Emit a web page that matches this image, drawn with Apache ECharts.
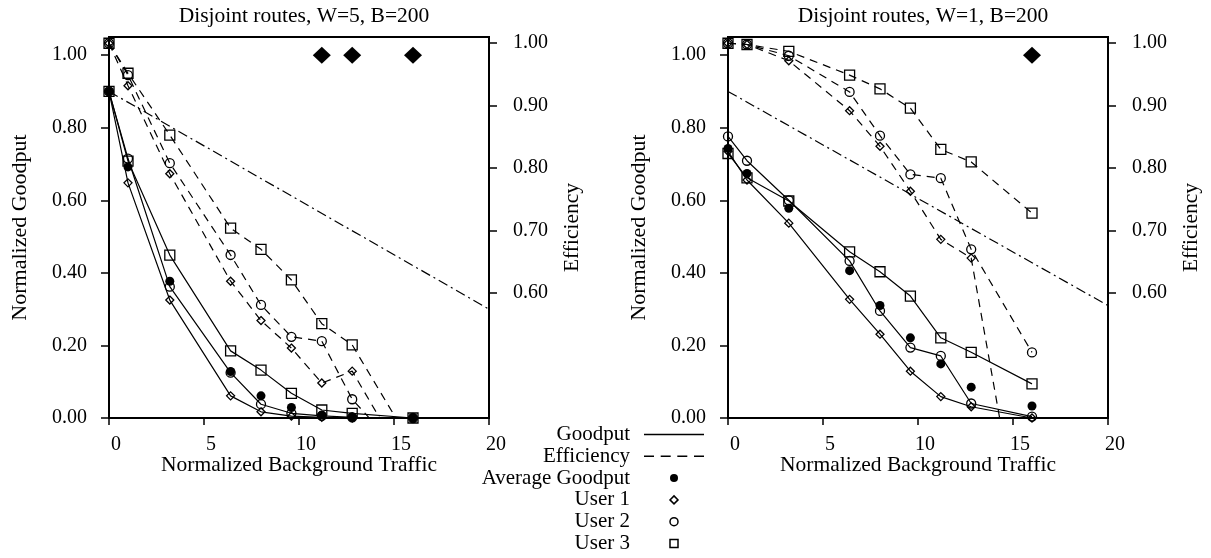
<!DOCTYPE html>
<html>
<head>
<meta charset="utf-8">
<script src="https://cdn.jsdelivr.net/npm/echarts@6/dist/echarts.min.js"></script>
<style>
html, body { margin: 0; padding: 0; background: #fff; }
#main { width: 1211px; height: 558px; }
</style>
</head>
<body>
<div id="main"></div>
<script>
var traffic = [0, 1, 3.2, 6.4, 8, 9.6, 11.2, 12.8, 16];
var goodputTicks = [0, 0.2, 0.4, 0.6, 0.8, 1.0];
var effTicks = [0.6, 0.7, 0.8, 0.9, 1.0];

// W=5 panel
var w5Avg   = [0.90, 0.692, 0.377, 0.128, 0.061, 0.029, 0.008, 0.002, 0];
var w5User1 = [0.90, 0.648, 0.325, 0.061, 0.017, 0.005, 0.002, 0, 0];
var w5User2 = [0.90, 0.715, 0.362, 0.125, 0.038, 0.013, 0.006, 0.002, 0];
var w5User3 = [0.90, 0.708, 0.449, 0.185, 0.132, 0.068, 0.022, 0.013, 0];
var w5Eff1  = [1.00, 0.932, 0.791, 0.619, 0.556, 0.512, 0.456, 0.475, 0.309];
var w5Eff2  = [1.00, 0.949, 0.808, 0.661, 0.581, 0.530, 0.523, 0.430, 0.323];
var w5Eff3  = [1.00, 0.952, 0.853, 0.704, 0.670, 0.621, 0.551, 0.517, 0.354];
var w5Flags = [11.2, 12.8, 16];
var w5Bound = [[0, 0.90], [20, 0.30]];

// W=1 panel
var w1Avg   = [0.743, 0.674, 0.578, 0.406, 0.310, 0.221, 0.149, 0.085, 0.033];
var w1User1 = [0.735, 0.656, 0.537, 0.327, 0.231, 0.129, 0.059, 0.031, 0];
var w1User2 = [0.776, 0.709, 0.600, 0.433, 0.295, 0.194, 0.171, 0.040, 0.004];
var w1User3 = [0.729, 0.662, 0.598, 0.458, 0.403, 0.336, 0.221, 0.181, 0.094];
var w1Eff1  = [1.00, 0.998, 0.972, 0.892, 0.835, 0.763, 0.686, 0.656, 0.109];
var w1Eff2  = [1.00, 0.998, 0.980, 0.922, 0.852, 0.790, 0.784, 0.670, 0.505];
var w1Eff3  = [1.00, 0.998, 0.987, 0.949, 0.927, 0.896, 0.830, 0.810, 0.728];
var w1Flags = [16];
var w1Bound = [[0, 0.90], [20, 0.31]];

var serif = 'Liberation Serif';
var hollow = { color: 'rgba(0,0,0,0)', borderColor: '#000', borderWidth: 1.3 };

function pairs(ys) {
    return traffic.map(function (x, i) { return [x, ys[i]]; });
}

var marks = {
    'User 1': { symbol: 'diamond', size: 8 },
    'User 2': { symbol: 'circle', size: 9 },
    'User 3': { symbol: 'rect', size: 10 }
};

function userLine(name, panel, ys, dashed) {
    return {
        name: name,
        type: 'line',
        xAxisIndex: panel,
        yAxisIndex: panel * 2 + (dashed ? 1 : 0),
        data: pairs(ys),
        symbol: marks[name].symbol,
        symbolSize: marks[name].size,
        showAllSymbol: true,
        clip: true,
        itemStyle: hollow,
        lineStyle: { color: '#000', width: 1.2, type: dashed ? [8, 6] : 'solid' },
        z: 3
    };
}

function avgPoints(panel, ys) {
    return {
        name: 'Average Goodput',
        type: 'scatter',
        xAxisIndex: panel,
        yAxisIndex: panel * 2,
        data: pairs(ys),
        symbol: 'circle',
        symbolSize: 9,
        itemStyle: { color: '#000', opacity: 1 },
        z: 4
    };
}

function flagPoints(panel, xs) {
    return {
        name: 'flag',
        type: 'scatter',
        xAxisIndex: panel,
        yAxisIndex: panel * 2,
        data: xs.map(function (x) { return [x, 1.0]; }),
        symbol: 'diamond',
        symbolSize: [18, 17],
        itemStyle: { color: '#000', opacity: 1 },
        z: 4
    };
}

function boundLine(panel, pts) {
    return {
        name: 'bound',
        type: 'line',
        xAxisIndex: panel,
        yAxisIndex: panel * 2,
        data: pts,
        symbol: 'none',
        lineStyle: { color: '#000', width: 1.2, type: [10, 4, 2, 4] },
        z: 2
    };
}

function xAxisFor(panel) {
    return {
        gridIndex: panel,
        type: 'value',
        min: 0, max: 20, interval: 5,
        name: 'Normalized Background Traffic',
        nameLocation: 'middle',
        nameGap: 36,
        nameMoveOverlap: false,
        nameTextStyle: { fontFamily: serif, fontSize: 21.5, color: '#000' },
        axisLine: { lineStyle: { color: '#000', width: 2 } },
        axisTick: { length: 7, lineStyle: { width: 1.5 } },
        axisLabel: { margin: 17, padding: [0, 0, 0, 14], fontFamily: serif, fontSize: 20, color: '#000' },
        splitLine: { show: false }
    };
}

function goodAxis(panel) {
    return {
        gridIndex: panel,
        type: 'value',
        position: 'left',
        min: 0, max: 1.05,
        name: 'Normalized Goodput',
        nameLocation: 'middle',
        nameGap: 78,
        nameTextStyle: { fontFamily: serif, fontSize: 22, color: '#000' },
        axisLine: { show: true, lineStyle: { color: '#000', width: 2 } },
        axisTick: { show: true, length: 8, customValues: goodputTicks, lineStyle: { width: 1.5 } },
        axisLabel: {
            margin: 22, customValues: goodputTicks, fontFamily: serif, fontSize: 20, color: '#000',
            formatter: function (v) { return v.toFixed(2); }
        },
        splitLine: { show: false }
    };
}

function effAxis(panel) {
    return {
        gridIndex: panel,
        type: 'value',
        position: 'right',
        min: 0.4, max: 1.01,
        name: 'Efficiency',
        nameLocation: 'middle',
        nameGap: 72,
        nameTextStyle: { fontFamily: serif, fontSize: 21.5, color: '#000' },
        axisLine: { show: true, lineStyle: { color: '#000', width: 2 } },
        axisTick: { show: true, length: 8, customValues: effTicks, lineStyle: { width: 1.5 } },
        axisLabel: {
            margin: 24, customValues: effTicks, fontFamily: serif, fontSize: 20, color: '#000',
            formatter: function (v) { return v.toFixed(2); }
        },
        splitLine: { show: false }
    };
}

var series = [
    { name: 'Goodput', type: 'line', xAxisIndex: 0, yAxisIndex: 0, data: [], symbol: 'none', lineStyle: { color: '#000' } },
    { name: 'Efficiency', type: 'line', xAxisIndex: 0, yAxisIndex: 1, data: [], symbol: 'none', lineStyle: { color: '#000', type: 'dashed' } },
    boundLine(0, w5Bound),
    userLine('User 1', 0, w5User1, false),
    userLine('User 2', 0, w5User2, false),
    userLine('User 3', 0, w5User3, false),
    userLine('User 1', 0, w5Eff1, true),
    userLine('User 2', 0, w5Eff2, true),
    userLine('User 3', 0, w5Eff3, true),
    avgPoints(0, w5Avg),
    flagPoints(0, w5Flags),
    boundLine(1, w1Bound),
    userLine('User 1', 1, w1User1, false),
    userLine('User 2', 1, w1User2, false),
    userLine('User 3', 1, w1User3, false),
    userLine('User 1', 1, w1Eff1, true),
    userLine('User 2', 1, w1Eff2, true),
    userLine('User 3', 1, w1Eff3, true),
    avgPoints(1, w1Avg),
    flagPoints(1, w1Flags)
];

var legendHollow = { color: 'rgba(0,0,0,0)', borderColor: '#000', borderWidth: 1.5 };

var chart = echarts.init(document.getElementById('main'));
chart.setOption({
    animation: false,
    backgroundColor: '#fff',
    title: [
        { text: 'Disjoint routes, W=5, B=200', left: 299, top: 0, textAlign: 'center',
          textStyle: { fontFamily: serif, fontSize: 21.5, fontWeight: 'normal', color: '#000' } },
        { text: 'Disjoint routes, W=1, B=200', left: 918, top: 0, textAlign: 'center',
          textStyle: { fontFamily: serif, fontSize: 21.5, fontWeight: 'normal', color: '#000' } }
    ],
    grid: [
        { left: 109, top: 37, width: 380, height: 381, show: true, borderColor: '#000', borderWidth: 2 },
        { left: 728, top: 37, width: 380, height: 381, show: true, borderColor: '#000', borderWidth: 2 }
    ],
    xAxis: [xAxisFor(0), xAxisFor(1)],
    yAxis: [goodAxis(0), effAxis(0), goodAxis(1), effAxis(1)],
    legend: {
        orient: 'vertical',
        align: 'right',
        right: 507,
        top: 424,
        padding: 0,
        itemWidth: 60,
        itemHeight: 8,
        itemGap: 0.8,
        selectedMode: false,
        symbolKeepAspect: true,
        textStyle: { fontFamily: serif, fontSize: 21, lineHeight: 20, color: '#000', padding: [0, 9, 0, 0] },
        data: [
            { name: 'Goodput', icon: 'path://M0,0H60V1.5H0Z', itemStyle: { color: '#000', borderWidth: 0 } },
            { name: 'Efficiency', icon: 'path://M0,0h10v1.5h-10zM16.7,0h10v1.5h-10zM33.3,0h10v1.5h-10zM50,0h10v1.5h-10z', itemStyle: { color: '#000', borderWidth: 0 } },
            { name: 'Average Goodput', icon: 'circle', itemStyle: { color: '#000', borderWidth: 0, opacity: 1 } },
            { name: 'User 1', icon: 'path://M5,0L10,5L5,10L0,5Z', itemStyle: legendHollow },
            { name: 'User 2', icon: 'circle', itemStyle: legendHollow },
            { name: 'User 3', icon: 'path://M0,0H10V10H0Z', itemStyle: legendHollow }
        ]
    },
    series: series
});
</script>
</body>
</html>
